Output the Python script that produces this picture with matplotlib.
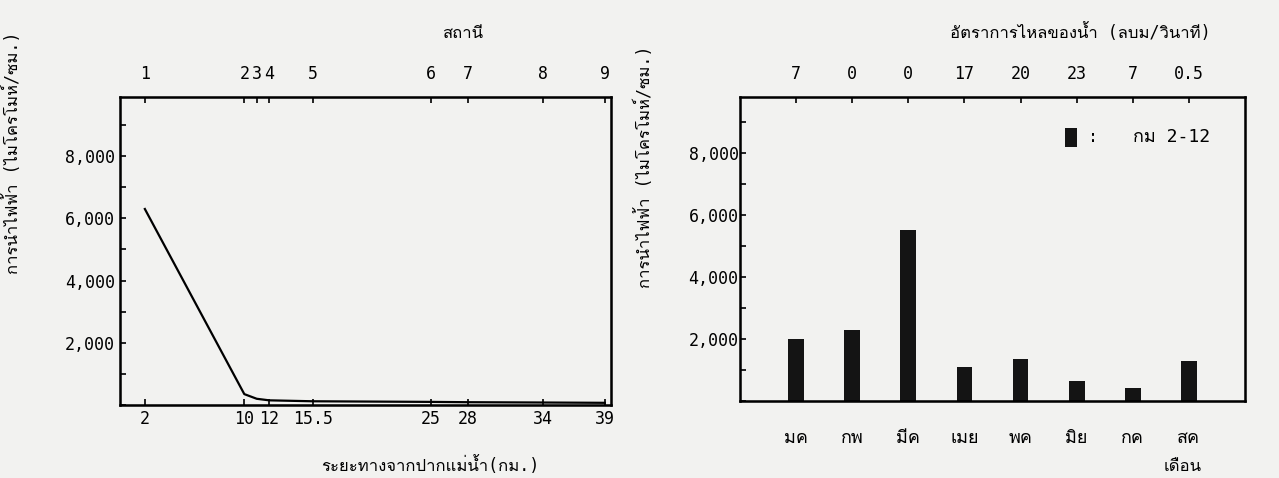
import numpy as np
import matplotlib
matplotlib.use("Agg")
from matplotlib import pyplot as plt
from matplotlib import font_manager

# find a font that has Thai glyphs, if one is installed
def thai_family():
    try:
        from fontTools.ttLib import TTFont
    except ImportError:
        return None
    for f in font_manager.fontManager.ttflist:
        try:
            tt = TTFont(f.fname, fontNumber=0, lazy=True)
            cmap = tt.getBestCmap()
            if cmap and 0x0E01 in cmap and 0x0E32 in cmap:
                return f.name
        except Exception:
            continue
    return None

fam = thai_family()
families = ['DejaVu Sans Mono'] + ([fam] if fam else []) + ['DejaVu Sans']
plt.rcParams['font.family'] = families

# left chart: conductivity along the river
dist_km = [2, 10, 11, 12, 15.5, 25, 28, 34, 39]
conductivity = [6300, 350, 200, 150, 120, 100, 90, 80, 70]
station_labels = ['1', '2', '3', '4', '5', '6', '7', '8', '9']
bottom_ticks = [2, 10, 12, 15.5, 25, 28, 34, 39]
bottom_labels = ['2', '10', '12', '15.5', '25', '28', '34', '39']

# right chart: monthly conductivity at km 2-12
months = ['มค', 'กพ', 'มีค', 'เมย', 'พค', 'มิย', 'กค', 'สค']
monthly_cond = [2000, 2300, 5500, 1100, 1350, 630, 420, 1300]
flow_labels = ['7', '0', '0', '17', '20', '23', '7', '0.5']

ylabel = 'การนำไฟฟ้า (ไมโครโมห์/ซม.)'
W, H = 1279, 478

fig = plt.figure(figsize=(W / 100, H / 100), dpi=100)
fig.patch.set_facecolor('#f2f2f0')

def box(l, r, t, b):
    return [l / W, 1 - b / H, (r - l) / W, (b - t) / H]

yt = np.arange(0, 10000, 1000)
ytl = ['{:,}'.format(v) if v in (2000, 4000, 6000, 8000) else '' for v in yt]

def style(ax):
    ax.set_facecolor('#f2f2f0')
    for s in ax.spines.values():
        s.set_linewidth(1.8)
    ax.tick_params(direction='in', length=4, width=1.2, labelsize=12)

# ---- left ----
ax1 = fig.add_axes(box(120, 611, 97, 405))
style(ax1)
ax1.plot(dist_km, conductivity, '-', color='black', lw=1.6)
ax1.set_xlim(0, 39.5)
ax1.set_ylim(0, 9900)
ax1.set_yticks(yt)
ax1.set_yticklabels(ytl)
ax1.set_xticks(bottom_ticks)
ax1.set_xticklabels(bottom_labels)
ax1.set_ylabel(ylabel, fontsize=12)
ax1.yaxis.set_label_coords(-0.2, 0.82)
fig.text(430 / W, 1 - 466 / H, 'ระยะทางจากปากแม่น้ำ(กม.)', fontsize=12,
         ha='center', va='center')
top1 = ax1.twiny()
top1.set_xlim(ax1.get_xlim())
top1.set_xticks(dist_km)
top1.set_xticklabels(station_labels)
top1.tick_params(direction='in', length=4, width=1.2, labelsize=12, pad=10)
fig.text(463 / W, 1 - 33 / H, 'สถานี', fontsize=12, ha='center', va='center')

# ---- right ----
ax2 = fig.add_axes(box(740, 1245, 97, 401))
style(ax2)
x = np.arange(len(months))
ax2.bar(x, monthly_cond, width=0.28, color='#141414')
ax2.set_xlim(-1.0, 8.0)
ax2.set_ylim(0, 9800)
ax2.set_yticks(yt)
ax2.set_yticklabels(ytl)
ax2.tick_params(axis='y', pad=1)
ax2.set_xticks(x)
ax2.set_xticklabels(months, fontsize=13)
ax2.tick_params(axis='x', length=0, pad=20)
ax2.set_ylabel(ylabel, fontsize=12)
ax2.yaxis.set_label_coords(-0.17, 0.77)
fig.text(1183 / W, 1 - 466 / H, 'เดือน', fontsize=12, ha='center', va='center')
top2 = ax2.twiny()
top2.set_xlim(ax2.get_xlim())
top2.set_xticks(x)
top2.set_xticklabels(flow_labels)
top2.tick_params(direction='in', length=4, width=1.2, labelsize=12, pad=10)
fig.text(1080 / W, 1 - 33 / H, 'อัตราการไหลของน้ำ (ลบม/วินาที)', fontsize=12,
         ha='center', va='center')

# legend
ax2.bar([4.9], [600], bottom=[8200], width=0.2, color='#141414')
ax2.text(5.2, 8500, ':', fontsize=12, va='center')
ax2.text(6.0, 8500, 'กม 2-12', fontsize=13, va='center')

fig.savefig('out.png', dpi=100, facecolor=fig.get_facecolor())
